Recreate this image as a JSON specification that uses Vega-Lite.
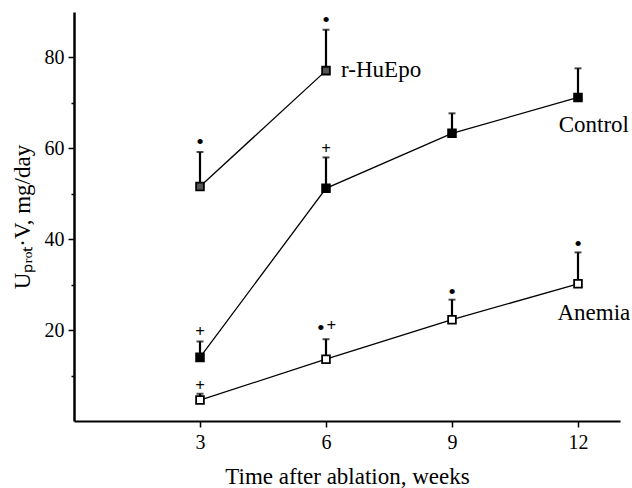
{
  "$schema": "https://vega.github.io/schema/vega-lite/v6.json",
  "autosize": "none",
  "width": 546,
  "height": 409,
  "padding": {"left": 74, "top": 12, "right": 12, "bottom": 67},
  "background": "white",
  "config": {
    "view": {"stroke": null},
    "font": "Liberation Serif",
    "axis": {"grid": false, "domainColor": "black", "tickColor": "black", "labelColor": "black", "titleColor": "black", "labelFont": "Liberation Serif", "titleFont": "Liberation Serif", "titleFontWeight": "normal"}
  },
  "datasets": {
    "pts": [
      {"series": "r-HuEpo", "week": 3, "mean": 51.6, "upper": 59.2},
      {"series": "r-HuEpo", "week": 6, "mean": 77.1, "upper": 86.1},
      {"series": "Control", "week": 3, "mean": 14.0, "upper": 17.5},
      {"series": "Control", "week": 6, "mean": 51.2, "upper": 58.0},
      {"series": "Control", "week": 9, "mean": 63.3, "upper": 67.7},
      {"series": "Control", "week": 12, "mean": 71.2, "upper": 77.6},
      {"series": "Anemia", "week": 3, "mean": 4.6, "upper": 6.0},
      {"series": "Anemia", "week": 6, "mean": 13.6, "upper": 18.0},
      {"series": "Anemia", "week": 9, "mean": 22.3, "upper": 26.7},
      {"series": "Anemia", "week": 12, "mean": 30.2, "upper": 37.1}
    ],
    "syms": [
      {"week": 3, "y": 61.8, "sym": "•"},
      {"week": 6, "y": 88.6, "sym": "•"},
      {"week": 3, "y": 19.5, "sym": "+"},
      {"week": 6, "y": 59.9, "sym": "+"},
      {"week": 3, "y": 7.6, "sym": "+"},
      {"week": 5.88, "y": 20.8, "sym": "•"},
      {"week": 6.13, "y": 20.8, "sym": "+"},
      {"week": 9, "y": 28.9, "sym": "•"},
      {"week": 12, "y": 39.3, "sym": "•"}
    ],
    "labels": [
      {"week": 6.36, "y": 77.2, "label": "r-HuEpo"},
      {"week": 11.54, "y": 65.1, "label": "Control"},
      {"week": 11.51, "y": 23.8, "label": "Anemia"}
    ]
  },
  "layer": [
    {
      "data": {"name": "pts"},
      "mark": {"type": "line", "color": "black", "strokeWidth": 1.3},
      "encoding": {
        "x": {"field": "week", "type": "quantitative", "scale": {"domain": [0, 13], "nice": false, "zero": false},
          "axis": {"values": [3, 6, 9, 12], "tickSize": 6, "tickWidth": 1.5, "domainWidth": 2, "labelFontSize": 20, "labelPadding": 5, "title": "Time after ablation, weeks", "titleFontSize": 23, "titlePadding": 13}},
        "y": {"field": "mean", "type": "quantitative", "scale": {"domain": [0, 90], "nice": false},
          "axis": {"values": [10, 20, 30, 40, 50, 60, 70, 80], "labelExpr": "datum.value % 20 === 0 ? datum.label : ''",
            "tickSize": {"condition": {"test": "datum.value % 20 === 0", "value": 6}, "value": 3},
            "tickWidth": 1.5, "domainWidth": 2.5, "labelFontSize": 20, "labelPadding": 4,
            "title": "Uₚᵣₒₜ·V, mg/day", "titleFontSize": 23, "titlePadding": 10}},
        "detail": {"field": "series"}
      }
    },
    {
      "data": {"name": "pts"},
      "mark": {"type": "rule", "color": "black", "strokeWidth": 2.2},
      "encoding": {
        "x": {"field": "week", "type": "quantitative"},
        "y": {"field": "mean", "type": "quantitative"},
        "y2": {"field": "upper"}
      }
    },
    {
      "data": {"name": "pts"},
      "mark": {"type": "tick", "color": "black", "orient": "horizontal", "size": 7, "thickness": 2},
      "encoding": {
        "x": {"field": "week", "type": "quantitative"},
        "y": {"field": "upper", "type": "quantitative"}
      }
    },
    {
      "data": {"name": "pts"},
      "mark": {"type": "point", "shape": "square", "filled": false, "size": 60, "stroke": "black", "strokeWidth": 1.8, "opacity": 1},
      "encoding": {
        "x": {"field": "week", "type": "quantitative"},
        "y": {"field": "mean", "type": "quantitative"},
        "fill": {"field": "series", "type": "nominal", "scale": {"domain": ["Control", "Anemia", "r-HuEpo"], "range": ["black", "white", "#555555"]}, "legend": null}
      }
    },
    {
      "data": {"name": "syms"},
      "transform": [{"filter": "datum.sym === '•'"}],
      "mark": {"type": "text", "fontSize": 22, "color": "black", "baseline": "middle", "align": "center", "dy": 2},
      "encoding": {
        "x": {"field": "week", "type": "quantitative"},
        "y": {"field": "y", "type": "quantitative"},
        "text": {"field": "sym"}
      }
    },
    {
      "data": {"name": "syms"},
      "transform": [{"filter": "datum.sym === '+'"}],
      "mark": {"type": "text", "fontSize": 17, "fontWeight": "bold", "color": "black", "baseline": "middle", "align": "center"},
      "encoding": {
        "x": {"field": "week", "type": "quantitative"},
        "y": {"field": "y", "type": "quantitative"},
        "text": {"field": "sym"}
      }
    },
    {
      "data": {"name": "labels"},
      "mark": {"type": "text", "fontSize": 23, "color": "black", "baseline": "middle", "align": "left"},
      "encoding": {
        "x": {"field": "week", "type": "quantitative"},
        "y": {"field": "y", "type": "quantitative"},
        "text": {"field": "label"}
      }
    }
  ]
}
